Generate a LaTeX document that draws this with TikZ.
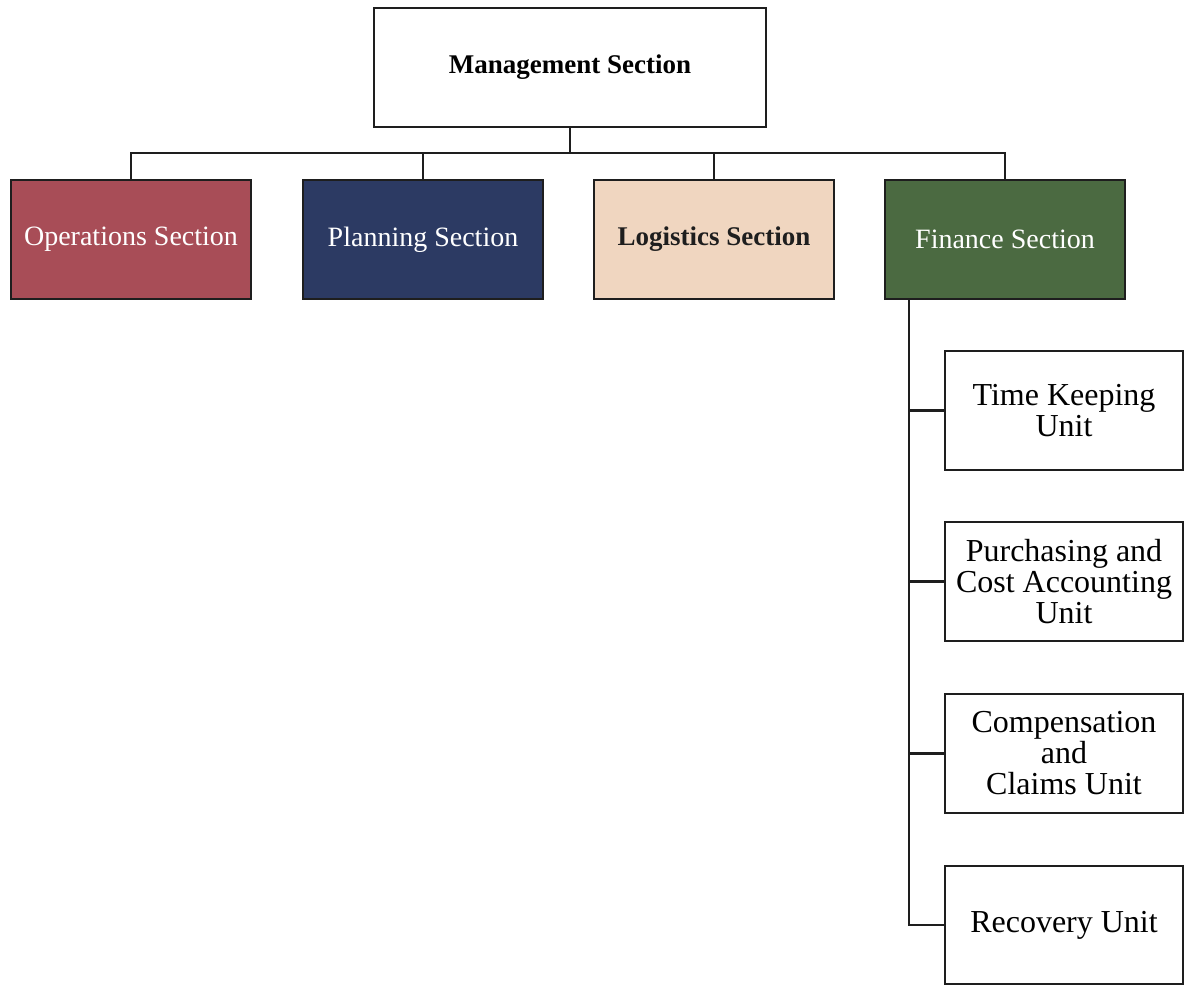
\documentclass[tikz,border=0pt]{standalone}
\usepackage{fontspec}
\setmainfont{Liberation Serif}
\definecolor{opsred}{HTML}{A84D57}
\definecolor{plannavy}{HTML}{2C3A63}
\definecolor{logbeige}{HTML}{F0D6C0}
\definecolor{fingreen}{HTML}{4B6A41}
\definecolor{linecol}{HTML}{1E1E1E}
\begin{document}
\begin{tikzpicture}[x=1pt,y=-1pt,
  box/.style={draw=linecol,line width=2.8pt,rectangle,inner sep=2pt,align=center},
  topbox/.style={box,fill=white,minimum width=392pt,minimum height=119pt,font=\fontsize{27}{31}\selectfont\bfseries},
  secbox/.style={box,minimum width=240pt,minimum height=119pt,font=\fontsize{28}{31}\selectfont},
  unitbox/.style={box,fill=white,minimum width=238pt,minimum height=119pt,font=\fontsize{32}{31}\selectfont},
  conn/.style={draw=linecol,line width=2.8pt}]
\useasboundingbox (0,0) rectangle (1185,985);
\fill[white] (0,0) rectangle (1185,985);
\node[topbox] (mgmt) at (570,67.5) {Management Section};
\node[secbox,fill=opsred,text=white] (ops) at (131,239.5) {Operations Section};
\node[secbox,fill=plannavy,text=white] (plan) at (423,239.5) {Planning Section};
\node[secbox,fill=logbeige,text=linecol,font=\fontsize{27}{31}\selectfont\bfseries] (log) at (714,239.5) {Logistics Section};
\node[secbox,fill=fingreen,text=white] (fin) at (1005,239.5) {Finance Section};
\node[unitbox] (tk) at (1064,410.5) {Time Keeping\\Unit};
\node[unitbox] (pur) at (1064,581.5) {Purchasing and\\Cost Accounting\\Unit};
\node[unitbox] (comp) at (1064,753.5) {Compensation\\and\\Claims Unit};
\node[unitbox,minimum height=118pt] (rec) at (1064,925) {Recovery Unit};
\coordinate (bus) at (570,153);
\coordinate (spine) at (909,300);
\draw[conn] (mgmt.south) -- (bus);
\draw[conn] (ops.north) -- (ops.north |- bus) -- (fin.north |- bus) -- (fin.north);
\draw[conn] (plan.north) -- (plan.north |- bus);
\draw[conn] (log.north) -- (log.north |- bus);
\draw[conn] (fin.south -| spine) -- (spine |- rec.west) -- (rec.west);
\draw[conn] (spine |- tk.west) -- (tk.west);
\draw[conn] (spine |- pur.west) -- (pur.west);
\draw[conn] (spine |- comp.west) -- (comp.west);
\end{tikzpicture}
\end{document}
